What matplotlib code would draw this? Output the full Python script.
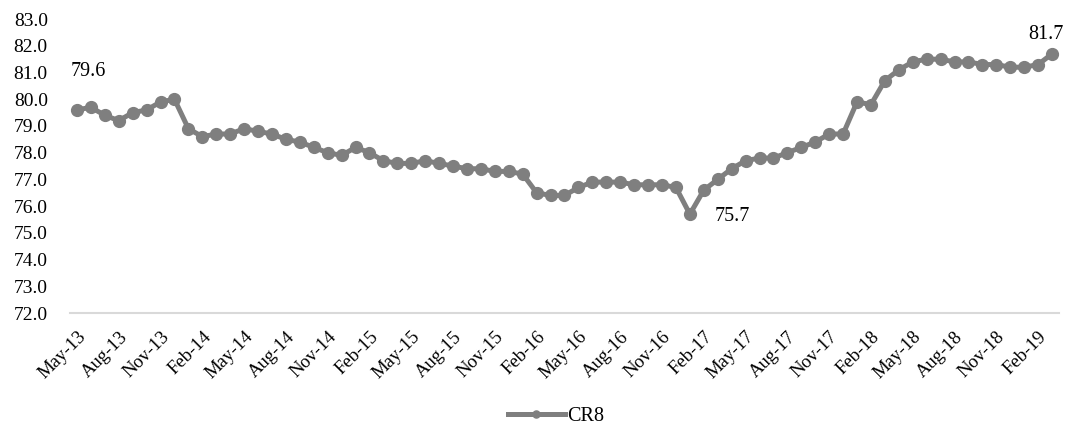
import matplotlib
matplotlib.use("Agg")
import matplotlib.pyplot as plt
import numpy as np

months = ["Jan", "Feb", "Mar", "Apr", "May", "Jun", "Jul", "Aug", "Sep", "Oct", "Nov", "Dec"]
categories = []
y, m = 2013, 4
while (y, m) <= (2019, 2):
    categories.append(f"{months[m]}-{str(y)[2:]}")
    m += 1
    if m == 12:
        m = 0
        y += 1

cr8 = [79.6, 79.7, 79.4, 79.2, 79.5, 79.6, 79.9, 80.0,
       78.9, 78.6, 78.7, 78.7, 78.9, 78.8, 78.7, 78.5, 78.4, 78.2, 78.0, 77.9,
       78.2, 78.0, 77.7, 77.6, 77.6, 77.7, 77.6, 77.5, 77.4, 77.4, 77.3, 77.3,
       77.2, 76.5, 76.4, 76.4, 76.7, 76.9, 76.9, 76.9, 76.8, 76.8, 76.8, 76.7,
       75.7, 76.6, 77.0, 77.4, 77.7, 77.8, 77.8, 78.0, 78.2, 78.4, 78.7, 78.7,
       79.9, 79.8, 80.7, 81.1, 81.4, 81.5, 81.5, 81.4, 81.4, 81.3, 81.3, 81.2,
       81.2, 81.3, 81.7]
yticks = [72.0 + i for i in range(12)]

plt.rcParams['font.family'] = ['Liberation Serif', 'DejaVu Serif']

fig = plt.figure(figsize=(10.67, 4.25), dpi=100)
ax = fig.add_axes([0.0656, 0.2635, 0.9269, 0.6915])

x = np.arange(len(cr8))
line, = ax.plot(x, cr8, color='#7f7f7f', lw=3.6, marker='o', ms=8.5,
                markerfacecolor='#7f7f7f', markeredgecolor='#7f7f7f', label='CR8')

ax.set_xlim(-0.5, len(cr8) - 0.5)
ax.set_ylim(72, 83)
ax.set_yticks(yticks)
ax.set_yticklabels([f"{v:.1f}" for v in yticks], fontsize=14)
tick_idx = list(range(0, len(cr8), 3))
ax.set_xticks(tick_idx)
ax.set_xticklabels([categories[i] for i in tick_idx], rotation=45, ha='right',
                   rotation_mode='anchor', fontsize=13.5)
ax.tick_params(axis='both', length=0, colors='#000000')
ax.tick_params(axis='y', pad=16)
ax.tick_params(axis='x', pad=11)

for s in ['top', 'right', 'left']:
    ax.spines[s].set_visible(False)
ax.spines['bottom'].set_color('#d9d9d9')
ax.spines['bottom'].set_linewidth(1.5)

i_min = int(np.argmin(cr8))
labels = [(0, (11, 38)), (i_min, (42, -2)), (len(cr8) - 1, (-6, 19))]
for i, off in labels:
    ax.annotate(f"{cr8[i]:.1f}", (x[i], cr8[i]), xytext=off, textcoords='offset pixels',
                ha='center', va='center', fontsize=14.5)

fig.legend(handles=[line], loc='center', bbox_to_anchor=(556 / 1067, 1 - 416 / 425),
           frameon=False, fontsize=14.5, handlelength=2.8, handletextpad=0.1,
           markerscale=0.6)

fig.savefig("out.png", dpi=100)
